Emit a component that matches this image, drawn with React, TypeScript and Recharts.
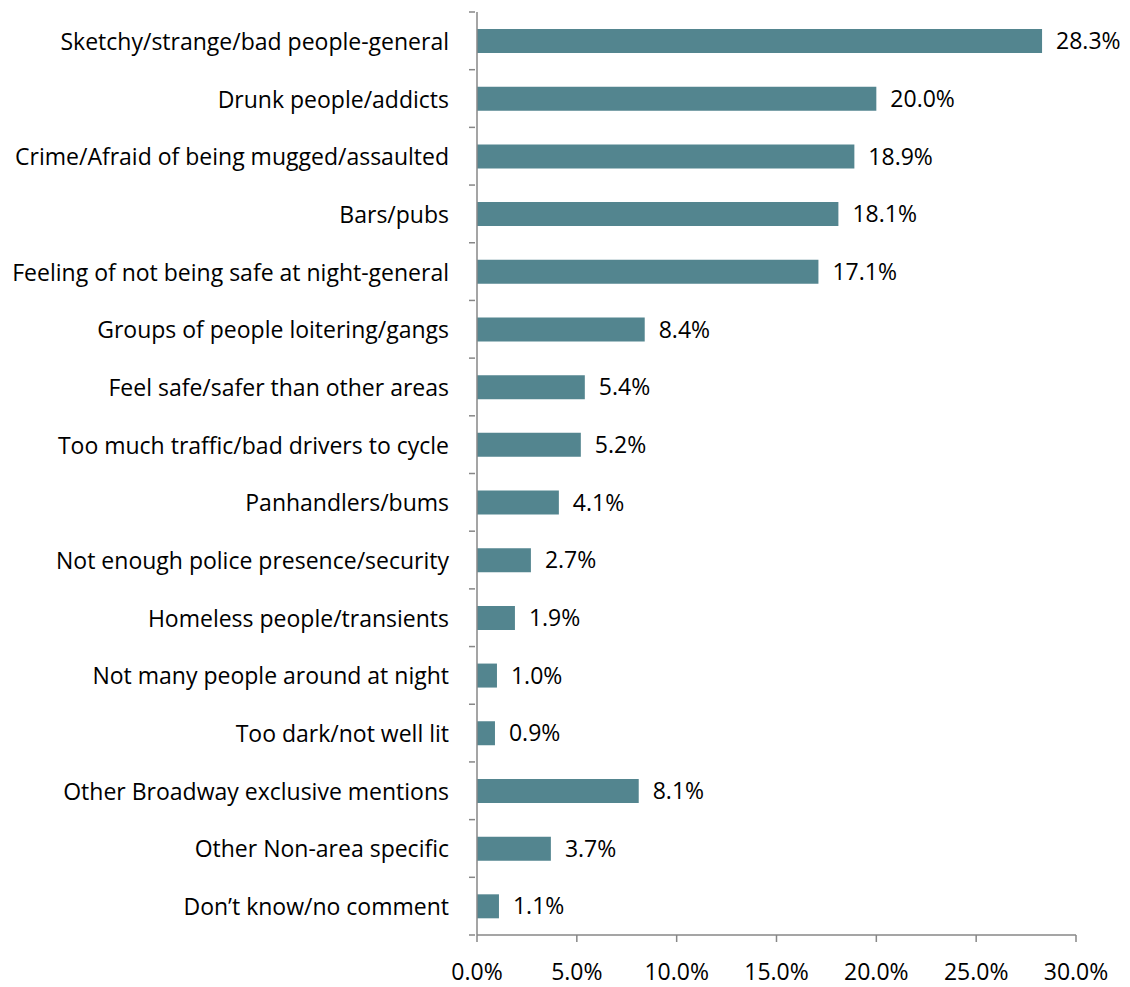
import { BarChart, Bar, XAxis, YAxis, LabelList } from "recharts";

const categories = [
  "Sketchy/strange/bad people-general",
  "Drunk people/addicts",
  "Crime/Afraid of being mugged/assaulted",
  "Bars/pubs",
  "Feeling of not being safe at night-general",
  "Groups of people loitering/gangs",
  "Feel safe/safer than other areas",
  "Too much traffic/bad drivers to cycle",
  "Panhandlers/bums",
  "Not enough police presence/security",
  "Homeless people/transients",
  "Not many people around at night",
  "Too dark/not well lit",
  "Other Broadway exclusive mentions",
  "Other Non-area specific",
  "Don\u2019t know/no comment",
];
const values = [28.3, 20.0, 18.9, 18.1, 17.1, 8.4, 5.4, 5.2, 4.1, 2.7, 1.9, 1.0, 0.9, 8.1, 3.7, 1.1];
const xTicks = [0, 5, 10, 15, 20, 25, 30];

const data = categories.map((c, i) => ({ name: c, value: values[i] }));

const W = 1130;
const H = 987;
const M = { top: 12, right: 54, bottom: 0, left: 0 };
const Y_W = 477;
const X_H = 52;
const band = (H - M.top - M.bottom - X_H) / categories.length;
const FONT = "'Open Sans', sans-serif";
const FS = 23;
const AXIS = "#878787";

// category labels + tick marks sitting on the band boundaries (Excel style)
function CatTick(props: any) {
  const { x, y, payload, index } = props;
  const ax = x + 6;
  return (
    <g>
      <line x1={ax - 6} x2={ax} y1={y - band / 2} y2={y - band / 2} stroke={AXIS} strokeWidth={1.5} />
      {index === categories.length - 1 && (
        <line x1={ax - 6} x2={ax} y1={y + band / 2} y2={y + band / 2} stroke={AXIS} strokeWidth={1.5} />
      )}
      <text x={ax - 26} y={y} textAnchor="end" dominantBaseline="central" fontSize={FS} fontFamily={FONT} fill="#000">
        {payload.value}
      </text>
    </g>
  );
}

export default function App() {
  return (
    <div style={{ position: "absolute", left: 0, top: 0, background: "#fff" }}>
      <BarChart width={W} height={H} data={data} layout="vertical" margin={M}>
        <XAxis
          type="number"
          domain={[0, 30]}
          ticks={xTicks}
          height={X_H}
          tickFormatter={(v: number) => `${v.toFixed(1)}%`}
          tick={{ fontSize: FS, fontFamily: FONT, fill: "#000" }}
          stroke={AXIS}
          strokeWidth={1.5}
          tickSize={7}
          tickMargin={22}
        />
        <YAxis
          type="category"
          dataKey="name"
          width={Y_W}
          tick={<CatTick />}
          tickLine={false}
          stroke={AXIS}
          strokeWidth={1.5}
          interval={0}
        />
        <Bar dataKey="value" fill="#53858f" barSize={24} isAnimationActive={false}>
          <LabelList
            dataKey="value"
            position="right"
            offset={14}
            formatter={(v: any) => `${Number(v).toFixed(1)}%`}
            style={{ fontSize: FS, fontFamily: FONT, fill: "#000" }}
          />
        </Bar>
      </BarChart>
    </div>
  );
}
